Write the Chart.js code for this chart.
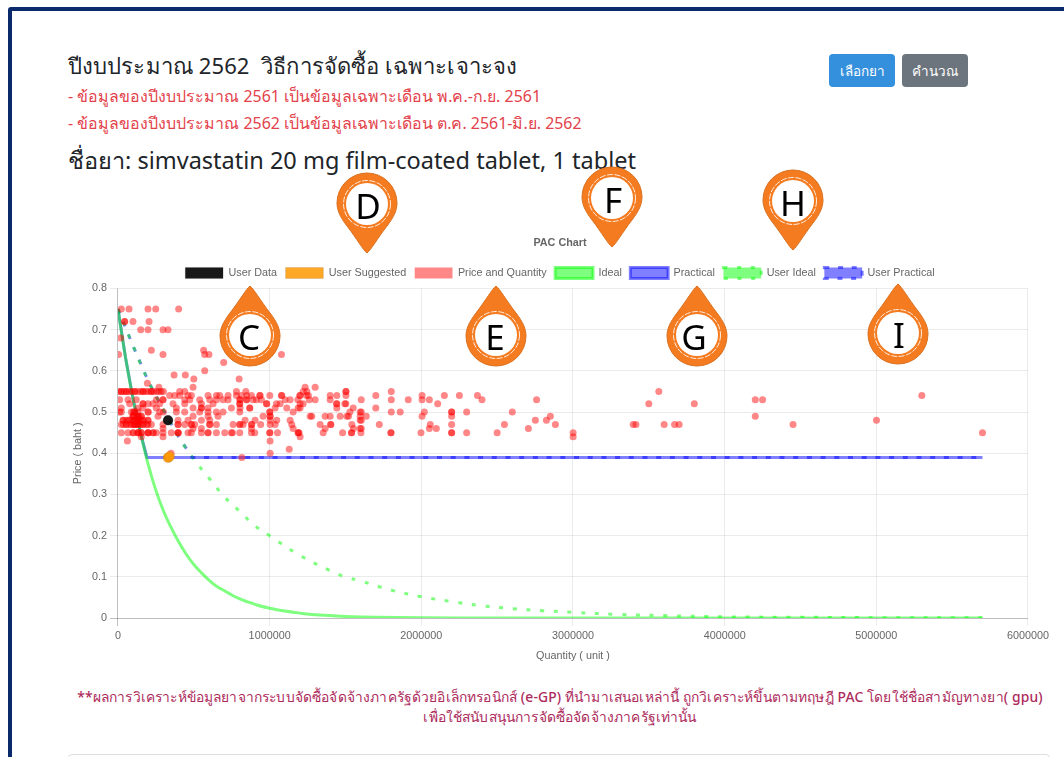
<!DOCTYPE html>
<html lang="th"><head><meta charset="utf-8">
<style>
html,body{margin:0;padding:0;background:#fff;overflow:hidden;width:1064px;height:757px}
.frame{position:absolute;left:8px;top:7px;width:1100px;height:800px;border:4px solid #0b2a6b;border-radius:3px;box-sizing:border-box}
.t{position:absolute;white-space:nowrap;font-family:"Noto Sans",sans-serif;line-height:1}
.h1{left:68px;top:54px;font-size:22.05px;letter-spacing:.1px;color:#212529}
.r{left:68px;font-size:15.95px;color:#e3424b}
.h2{left:68px;top:149px;font-size:23.5px;color:#212529}
.btn{position:absolute;top:54px;height:33px;border-radius:4px;color:#fff;font:13.5px "Noto Sans",sans-serif;display:flex;align-items:center;justify-content:center}
.note{left:60px;width:1000px;text-align:center;font-size:13.85px;letter-spacing:.16px;color:#ad2a5c;font-weight:500}
.card{position:absolute;left:68px;top:754px;width:982px;height:40px;border:1px solid #ddd;border-radius:4px;box-sizing:border-box}
#wrap{position:absolute;left:68px;top:228px;width:984px;height:435px;filter:blur(.45px)}
#pins{position:absolute;left:0;top:0;pointer-events:none}
</style></head><body>
<div class="frame"></div>
<div class="t h1">ปีงบประมาณ 2562&nbsp; วิธีการจัดซื้อ เฉพาะเจาะจง</div>
<div class="t r" style="top:89px">- ข้อมูลของปีงบประมาณ 2561 เป็นข้อมูลเฉพาะเดือน พ.ค.-ก.ย. 2561</div>
<div class="t r" style="top:116px">- ข้อมูลของปีงบประมาณ 2562 เป็นข้อมูลเฉพาะเดือน ต.ค. 2561-มิ.ย. 2562</div>
<div class="t h2">ชื่อยา: simvastatin 20 mg film-coated tablet, 1 tablet</div>
<div class="btn" style="left:829px;width:66px;background:#3490dc">เลือกยา</div>
<div class="btn" style="left:902px;width:66px;background:#6c757d">คำนวณ</div>
<div id="wrap"><canvas id="c" width="984" height="435"></canvas></div>
<div class="t note" style="top:690px">**ผลการวิเคราะห์ข้อมูลยาจากระบบจัดซื้อจัดจ้างภาครัฐด้วยอิเล็กทรอนิกส์ (e-GP) ที่นำมาเสนอเหล่านี้ ถูกวิเคราะห์ขึ้นตามทฤษฎี PAC โดยใช้ชื่อสามัญทางยา( gpu)</div>
<div class="t note" style="top:710px">เพื่อใช้สนับสนุนการจัดซื้อจัดจ้างภาครัฐเท่านั้น</div>
<div class="card"></div>
<svg id="pins" width="1064" height="757"></svg>
<script src="https://cdn.jsdelivr.net/npm/chart.js@4"></script>
<script>
// Quantities are in thousands of units; each array holds one price level (baht).
const q045=[22,66,99,101,132,132,134,154,154,198,198,200,231,233,253,297,352,396,396,398,462,484,550,594,594,649,704,748,755,803,880,902,1001,1001,1052,1188,1188,1194,1353,1481,1540,1540,1602,1800,1800,1998,2200,2200,2299,2500,3001,5700];
const q044=[154,297,1201,3001];
const q043=[62,1003];
const q041=[1129];
const q040=[350,1003];
const q039=[817];
const q046=[297,495,550,880,1155,1366,1553,1597,1604,2053,2099,2706];
const q047=[22,35,55,55,77,88,101,110,110,120,132,134,150,165,167,190,198,220,297,396,396,440,484,484,506,605,605,649,759,803,803,825,880,882,941,1003,1036,1146,1333,1403,1403,1542,1723,2059,2200,2548,2884,3397,3415,3601,3670,3700,4451];
const q048=[33,35,55,66,77,99,101,110,120,132,132,134,150,165,167,198,198,396,462,550,605,838,904,1003,1047,1135,1597,1604,2752,2825,5001];
const q049=[99,99,101,132,132,134,154,154,264,495,594,660,957,1003,1003,1267,1278,1366,1399,1465,1509,1520,1597,1637,2005,2200,2851,4202];
const q050=[11,22,88,101,110,110,132,198,200,275,299,385,440,539,594,649,693,803,1001,1001,1155,1529,1597,1604,1802,1861,2020,2200,2200,2299,2600];
const q051=[22,132,165,253,385,495,550,550,594,748,805,869,869,1036,1113,1188,1201,1443,1551,1700];
const q052=[77,165,165,198,231,275,363,440,550,627,803,803,979,981,1045,1069,1201,1221,1443,1441,1496,1503,2108,3500,3800];
const q053=[11,66,121,253,297,297,440,473,539,605,649,693,726,803,847,913,946,805,849,891,1102,1135,1186,1261,1300,1399,1604,1802,1914,2005,2053,2400,2760,4202,4250];
const q054=[341,374,407,462,484,594,649,671,726,781,814,880,935,1001,1078,1199,1243,1399,1443,1503,1700,2005,2152,2251,2370,5300,849,937,1080,1201,1256];
const q055=[4,22,40,55,75,90,110,130,150,165,185,200,220,235,255,270,285,300,22,55,110,165,220,407,440,781,843,1221,1245,1503,1503,1802,3566];
const q056=[270,495,1234,1300];
const q057=[194];
const q058=[500,799];
const q059=[370,444];
const q060=[572];
const q062=[697];
const q064=[4,297,572,600,1078];
const q065=[220,565];
const q068=[18];
const q070=[150,198,297,330];
const q072=[44,44,99,205];
const q075=[22,73,198,249,400];

const userDataQ=[330], userDataP=[0.48];
const userSuggestedQ=[330,340], userSuggestedP=[0.389,0.392];

const idealQ=[0,50,100,150,200,250,300,350,400,450,500,550,600,650,700,750,800,850,900,950,1000,1100,1200,1300,1400,1500,1700,2000,2500,3000,4000,5000,5700];
const idealP=[.75,.632,.531,.447,.372,.31,.26,.22,.185,.155,.13,.11,.092,.077,.067,.056,.047,.04,.034,.028,.024,.017,.012,.008,.006,.004,.002,.001,0,0,0,0,0];
const practicalQ=[0,50,100,150,191,1000,2000,3000,4000,5000,5700];
const practicalP=[.75,.632,.531,.447,.39,.39,.39,.39,.39,.39,.39];
const userIdealQ=[0,100,200,300,400,490,600,700,800,900,1000,1200,1400,1500,1600,1800,2000,2200,2400,2600,2800,3000,3300,3600,4000,4500,5000,5700];
const userIdealP=[.75,.66,.575,.505,.44,.39,.34,.295,.26,.225,.2,.152,.115,.1,.09,.068,.052,.04,.03,.023,.018,.014,.009,.006,.003,.002,.001,.0005];
const userPracticalQ=[0,100,200,300,400,490,1000,2000,3000,4000,5000,5700];
const userPracticalP=[.75,.66,.575,.505,.44,.39,.39,.39,.39,.39,.39,.39];

const seriesLabels=["User Data","User Suggested","Price and Quantity","Ideal","Practical","User Ideal","User Practical"];
const xTickMax=6000000, xTickStep=1000000, yTickMax=0.8, yTickStep=0.1;
const pinLetters=["C","D","E","F","G","H","I"];
const pinX=[250,367,496,612,697,793,898];
const pinY=[335,204,335,198,335,201,333];
const pinUp=[true,false,true,false,true,false,true];
const letterDX=[-1,1,-1,1,-3,0,1];

const levels=[[.39,q039],[.40,q040],[.41,q041],[.43,q043],[.44,q044],[.45,q045],[.46,q046],[.47,q047],[.48,q048],[.49,q049],[.50,q050],[.51,q051],[.52,q052],[.53,q053],[.54,q054],[.55,q055],[.56,q056],[.57,q057],[.58,q058],[.59,q059],[.60,q060],[.62,q062],[.64,q064],[.65,q065],[.68,q068],[.70,q070],[.72,q072],[.75,q075]];
const pq=[];levels.forEach(([p,a])=>a.forEach(q=>pq.push({x:q*1000,y:p})));
const pts=(Q,P)=>Q.map((q,i)=>({x:q*1000,y:P[i]}));

const FONT='"Liberation Sans",Arial,sans-serif';
Chart.defaults.font.family=FONT;Chart.defaults.font.size=10.8;Chart.defaults.color='#666';
const GREEN='rgba(0,255,0,.5)',BLUE='rgba(0,0,255,.5)';
function line(label,data,c,dash,tension){return{type:'scatter',label,data,showLine:true,fill:false,backgroundColor:c,borderColor:c,borderWidth:3,pointRadius:0,pointHoverRadius:0,borderDash:dash||[],tension:tension||0}}
new Chart(document.getElementById('c'),{
 type:'scatter',
 data:{datasets:[
  {label:seriesLabels[0],data:pts(userDataQ,userDataP),backgroundColor:'rgba(0,0,0,.9)',borderColor:'rgba(0,0,0,.1)',pointRadius:5,borderWidth:1},
  {label:seriesLabels[1],data:pts(userSuggestedQ,userSuggestedP),backgroundColor:'rgba(255,153,0,.85)',borderColor:'rgba(0,0,0,.1)',pointRadius:5,borderWidth:1},
  {label:seriesLabels[2],data:pq,backgroundColor:'rgba(255,0,0,.47)',borderColor:'rgba(0,0,0,.1)',pointRadius:3.5,borderWidth:0},
  line(seriesLabels[3],pts(idealQ,idealP),GREEN,null,.4),
  line(seriesLabels[4],pts(practicalQ,practicalP),BLUE),
  line(seriesLabels[5],pts(userIdealQ,userIdealP),GREEN,[4,9.7],.4),
  line(seriesLabels[6],pts(userPracticalQ,userPracticalP),BLUE,[5,8.7])
 ]},
 options:{responsive:false,animation:false,
  layout:{padding:{left:0,right:0,top:0,bottom:0}},
  plugins:{
   title:{display:true,text:'PAC Chart',font:{size:10.8,weight:'bold'},color:'#666',padding:{top:9,bottom:9}},
   legend:{display:true,position:'top',labels:{boxWidth:37.8,boxHeight:11,font:{size:10.8},color:'#666',padding:8.5}},
   tooltip:{enabled:false}
  },
  scales:{
   x:{type:'linear',min:0,max:xTickMax,
      title:{display:true,text:'Quantity ( unit )',font:{size:10.8},color:'#666',padding:{top:5,bottom:0}},
      grid:{color:c=>c.tick&&c.tick.value===0?'rgba(0,0,0,.25)':'rgba(0,0,0,.08)'},border:{display:false},
      ticks:{stepSize:xTickStep,maxRotation:0,autoSkip:false,font:{size:10.8},color:'#666',callback:v=>String(v)}},
   y:{type:'linear',min:0,max:yTickMax,
      title:{display:true,text:'Price ( baht )',font:{size:10.8},color:'#666',padding:{top:4,bottom:4}},
      grid:{color:c=>c.tick&&c.tick.value===0?'rgba(0,0,0,.25)':'rgba(0,0,0,.08)'},border:{display:false},
      ticks:{stepSize:yTickStep,font:{size:10.8},color:'#666',callback:v=>String(Math.round(v*10)/10)}}
  }
 }
});

// Orange location pins drawn over the chart, with real text letters.
const NS='http://www.w3.org/2000/svg', svg=document.getElementById('pins');
function el(n,a,p){const e=document.createElementNS(NS,n);for(const k in a)e.setAttribute(k,a[k]);(p||svg).appendChild(e);return e}
pinLetters.forEach((L,i)=>{
 const g=el('g',{transform:`translate(${pinX[i]},${pinY[i]})`});
 const inner=el('g',{transform:pinUp[i]?'rotate(180)':''},g);
 el('path',{d:'M0,49 C-4,46 -10,35 -20,22 C-27,13 -30,6 -30,-1 A30,30 0 1 1 30,-1 C30,6 27,13 20,22 C10,35 4,46 0,49 Z',fill:'#f47b20',stroke:'#d9701f','stroke-width':1},inner);
 el('circle',{r:23.5,cx:0,cy:0,fill:'none',stroke:'#fff','stroke-width':1,'stroke-dasharray':'6 1.5','opacity':.85},g);
 el('circle',{r:21,cx:0,cy:0,fill:'#fff'},g);
 const t=el('text',{x:letterDX[i],y:14.5,'text-anchor':'middle','font-family':'"Noto Sans",sans-serif','font-size':35,fill:'#000'},g);
 t.textContent=L;
});
</script>
</body></html>
